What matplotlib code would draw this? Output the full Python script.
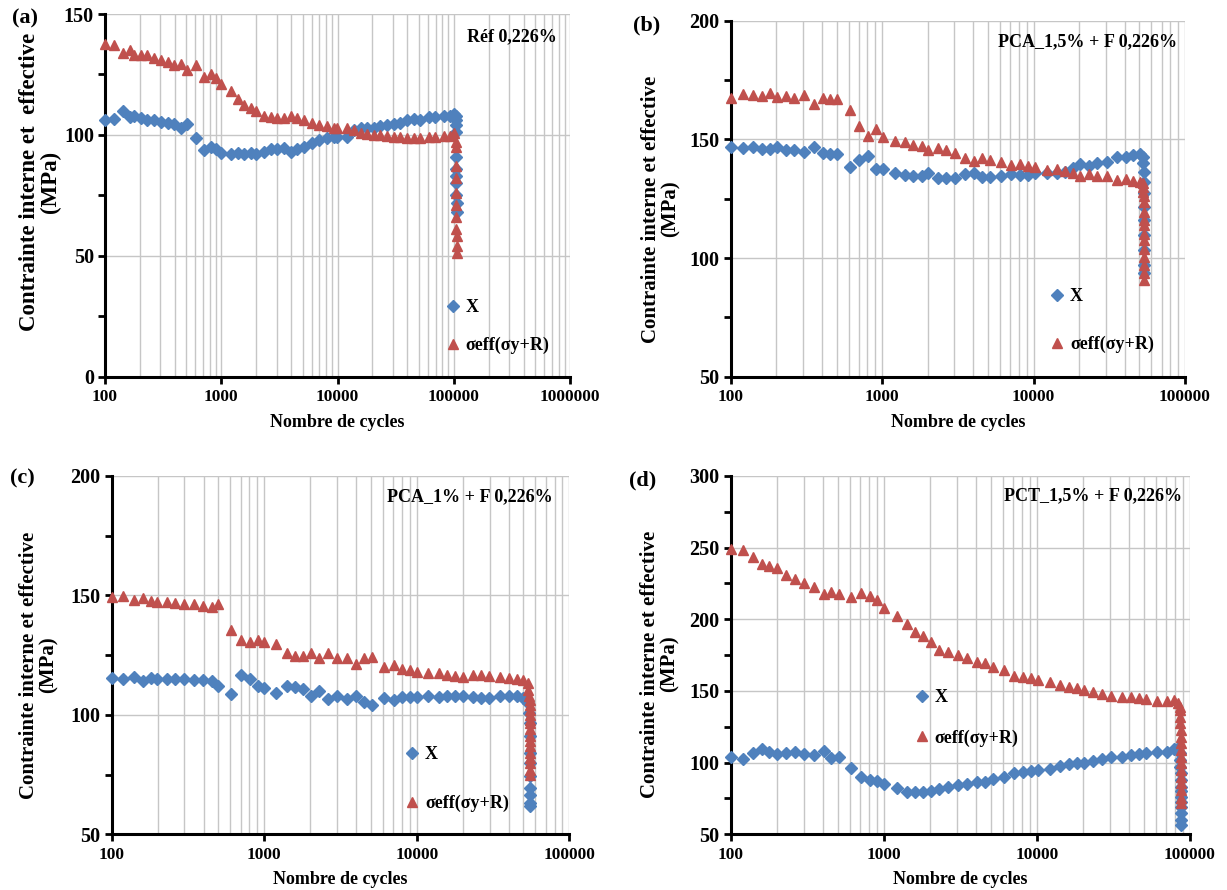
import matplotlib
matplotlib.use("Agg")
import matplotlib.pyplot as plt
from matplotlib.ticker import MultipleLocator, FuncFormatter, LogLocator, NullFormatter
import numpy as np

plt.rcParams['font.family'] = ['Liberation Serif', 'DejaVu Serif']
plt.rcParams['font.weight'] = 'bold'

BLUE = '#4F81BD'
RED = '#C0504D'

# ---------------- Panel (a) : Réf 0,226% ----------------
a_cycles = [100, 120, 142, 163, 178, 204, 232, 265, 303, 345, 393, 448, 505, 605, 712, 812, 898, 990,
            1210, 1380, 1575, 1800, 1980, 2330, 2660, 3030, 3450, 3950, 4500, 5140, 6060, 6900, 8130,
            9280, 9900, 12100, 13800, 15800, 18000, 20500, 23400, 26700, 30500, 34700, 39600, 45200,
            51600, 60700, 69200, 81800, 92700, 101000]
a_X = [106, 106.7, 109.7, 107.4, 108, 107, 106, 106, 105.3, 105, 104.6, 103, 104.6, 98.6, 93.8, 95, 94,
       92.6, 92, 92.4, 92, 92.4, 92, 93, 94, 94, 94.4, 93, 94, 95, 96.5, 98, 98.6, 99, 99.3, 99.3, 102,
       102.8, 102.8, 103, 103.8, 104, 104.6, 104.9, 106, 106.5, 106, 107.4, 107.4, 108, 108, 108.8]
a_seff = [137.5, 137, 134, 135, 133, 133, 133, 132, 131, 130, 129, 129.5, 127, 129, 124, 125, 123.6, 121,
          118, 115, 112.5, 111, 110, 108, 107.6, 107, 107, 108, 107, 106, 105, 104, 103.5, 103, 103, 103,
          102, 100.7, 100.4, 100, 100, 99.6, 99.3, 99.3, 98.6, 98.6, 98.6, 99.3, 99.3, 99.6, 99.6, 100.7]
a_drop_cycles_X = [104000, 104500, 104500, 105000, 105000, 105000, 105500, 105500, 105500, 106000, 106000]
a_drop_X = [108, 106, 104, 101, 91, 86, 83, 80, 75, 72, 68]
a_drop_cycles_seff = [104000, 104500, 105000, 105000, 105000, 105500, 105500, 105500, 106000, 106000, 106000]
a_drop_seff = [97, 95, 87, 82, 76, 71, 66, 61, 58, 54, 51]

# ---------------- Panel (b) : PCA_1,5% + F 0,226% ----------------
b_cycles = [100, 121, 141, 162, 182, 203, 232, 262, 305, 355, 404, 453, 507, 609, 708, 811, 910, 1010,
            1220, 1420, 1610, 1830, 2020, 2330, 2640, 3030, 3530, 4040, 4540, 5150, 6060, 7120, 8090,
            9140, 10200, 12200, 14200, 16100, 18300, 20300, 23400, 26200, 30400, 35300, 40600, 45400, 50400]
b_X = [146.9, 146.2, 146.6, 145.8, 145.8, 146.6, 145.5, 145.5, 144.8, 146.6, 144.1, 143.8, 143.8, 138.5,
       141.3, 143, 137.4, 137.4, 136, 135, 134.7, 134.7, 135.7, 133.6, 133.6, 133.8, 135.4, 135.7, 134,
       134.3, 134.6, 135.4, 135, 135, 135.7, 135.7, 135.7, 136.4, 137.8, 139.6, 138.8, 139.9, 140.6,
       142.4, 142.7, 143.4, 143.8]
b_seff = [167.3, 169.1, 168.7, 168.3, 169.4, 167.7, 168.3, 167.3, 168.7, 164.9, 167.3, 167, 167, 162.4,
          155.6, 151.4, 154.2, 151.1, 149.4, 149, 147.6, 147.2, 145.5, 146.5, 145.5, 144.4, 142, 141, 142,
          141.3, 140.6, 139.2, 139.6, 138.8, 138.2, 137, 137.4, 136.7, 135.7, 134.7, 135.4, 134.6, 134.6,
          132.9, 133.1, 132.6, 132.2]
b_drop_cycles_X = [52500, 53000, 53500, 53500, 54000, 54000, 54000, 54000, 54000, 54000, 54000]
b_drop_X = [142.7, 139.9, 136.4, 132.2, 127.2, 121.6, 116, 109.7, 103.4, 97.1, 93.5]
b_drop_cycles_seff = [52500, 53000, 53000, 53500, 53500, 54000, 54000, 54000, 54000, 54000, 54000,
                      54000, 54000, 54000, 54000]
b_drop_seff = [131.5, 130, 128, 126, 123.7, 119.5, 116, 113.9, 110, 107.6, 104, 100.6, 97, 93.5, 90.7]

# ---------------- Panel (c) : PCA_1% + F 0,226% ----------------
c_cycles = [100, 119, 139, 160, 180, 199, 229, 260, 299, 348, 399, 452, 501, 603, 700, 808, 908, 1004,
            1197, 1400, 1592, 1807, 2020, 2300, 2620, 3020, 3490, 4020, 4530, 5080, 6060, 7040, 7970,
            9050, 10100, 11900, 13900, 15900, 17900, 20100, 23200, 26200, 29800, 35000, 40400, 45300, 50000]
c_X = [115.3, 114.9, 115.8, 114, 115.3, 114.9, 115.1, 114.9, 115.1, 114.4, 114.4, 114, 111.9, 108.8,
       116.5, 115.1, 112.1, 111.2, 109.3, 111.9, 111.6, 110.7, 108.1, 109.8, 106.6, 108, 106.6, 108.1,
       105.2, 104.2, 107, 106.3, 107.3, 107.4, 107.3, 107.7, 107.3, 107.7, 107.7, 107.7, 107.3, 107, 107,
       107.7, 108, 108, 107]
c_seff = [149.2, 149.8, 148.1, 148.8, 147.7, 147.4, 147.1, 146.7, 146.4, 146.3, 145.6, 145.3, 146.4,
          135.6, 131.4, 130.7, 131.4, 130.3, 129.7, 125.8, 124.7, 124.7, 126.1, 123.7, 125.8, 123.7,
          123.7, 121.3, 123.7, 124.1, 120.2, 120.9, 119.2, 118.8, 118.1, 117.7, 117.7, 116.7, 116.3, 116,
          116.7, 116.7, 116.3, 115.8, 115.3, 114.9, 114.4]
c_drop_cycles_X = [54000, 54500, 55000, 55000, 55000, 55500, 55500, 55500, 55500, 55500, 55500]
c_drop_X = [104.9, 100.7, 96.5, 91, 84, 79.8, 74.2, 69.3, 66.5, 63, 62]
c_drop_cycles_seff = [53500, 54000, 54500, 55000, 55000, 55500, 55500, 55500, 55500, 55500, 55500,
                      55500, 55500, 55500, 55500, 55500, 55500, 55500]
c_drop_seff = [113.2, 110.5, 108, 106.3, 104, 102.1, 100, 98, 96.5, 94, 91, 89, 87, 84, 82, 79.8, 77, 75]

# ---------------- Panel (d) : PCT_1,5% + F 0,226% ----------------
d_cycles = [100, 120, 139, 159, 179, 202, 230, 263, 301, 352, 404, 453, 506, 609, 707, 808, 900, 1005,
            1214, 1411, 1600, 1798, 2020, 2306, 2640, 3030, 3510, 4050, 4590, 5150, 6110, 7100, 8080,
            9100, 10200, 12200, 14200, 16100, 18200, 20400, 23400, 26800, 30700, 35900, 41000, 46200,
            51700, 61100, 70500, 78100]
d_X = [103.7, 102.3, 106.5, 109.3, 107.7, 106, 107, 107.7, 106, 105.3, 108.1, 103, 103.7, 96, 89.8,
       87.9, 87.4, 85.1, 82.1, 79.8, 79.3, 79.8, 80.5, 81.6, 82.8, 84.4, 85.1, 86.7, 86.7, 88.4, 90.2,
       93, 93.7, 94.4, 94.9, 95.3, 97.7, 99.1, 99.5, 100, 101.4, 102.3, 103.7, 104.2, 105.3, 106, 106.5,
       107.7, 107.7, 109.3]
d_seff = [248.8, 248.4, 243.3, 238.4, 237.2, 235.6, 230.9, 227.9, 225.1, 222.8, 217.7, 219.3, 217.7,
          215.3, 218.1, 216.3, 213.5, 208.1, 202.3, 196.7, 191.4, 188.6, 184.4, 178.6, 177.4, 175.1,
          172.8, 170.5, 169.8, 166.5, 164.7, 160.7, 159.5, 158.8, 157.7, 156.5, 154.2, 152.6, 151.9,
          150.7, 149.5, 147.9, 146.5, 146, 145.6, 144.9, 144.2, 143.3, 143.3, 143.7]
d_drop_cycles_X = [85000, 86000, 86500, 86500, 87000, 87000, 87000, 87000, 87000, 87000, 87000, 87000,
                   87000, 87000]
d_drop_X = [111.2, 106.5, 101.9, 97, 92.6, 88, 83.3, 80, 76.3, 72.7, 69.3, 64.7, 60, 56.5]
d_drop_cycles_seff = [84000, 85500, 86000, 86500, 86500, 87000, 87000, 87000, 87000, 87000, 87000,
                      87000, 87000, 87000, 87000, 87000, 87000]
d_drop_seff = [141.4, 139, 136.7, 132, 127.4, 122.8, 118.1, 113.5, 108.8, 104, 99.5, 95, 90.2, 85.5,
               80.9, 75.1, 71.6]

legend_labels = ['X', 'σeff(σy+R)']
panel_letters = ['(a)', '(b)', '(c)', '(d)']
titles = ['Réf 0,226%', 'PCA_1,5% + F 0,226%', 'PCA_1% + F 0,226%', 'PCT_1,5% + F 0,226%']
ylabels = ['Contrainte interne et  effective\n(MPa)', 'Contrainte interne et effective\n(MPa)',
           'Contrainte interne et effective\n(MPa)', 'Contrainte interne et effective\n(MPa)']
xlabel = 'Nombre de cycles'

W, H = 1227, 890
fig = plt.figure(figsize=(W / 100, H / 100), dpi=100)


def px_rect(l, t, r, b):
    return [l / W, 1 - b / H, (r - l) / W, (b - t) / H]


panels = [
    dict(rect=px_rect(105, 14, 570, 376.7), xlim=(100, 1e6), ylim=(0, 150),
         cyc=a_cycles, X=a_X, S=a_seff, dXc=a_drop_cycles_X, dX=a_drop_X, dSc=a_drop_cycles_seff, dS=a_drop_seff,
         leg=(0.733, 0.214, 1.15), letter=(25, 18), title=(557, 37), ylab=(40, 182, 16.5)),
    dict(rect=px_rect(730.7, 20.7, 1185, 376.7), xlim=(100, 1e5), ylim=(50, 200),
         cyc=b_cycles, X=b_X, S=b_seff, dXc=b_drop_cycles_X, dX=b_drop_X, dSc=b_drop_cycles_seff, dS=b_drop_seff,
         leg=(0.703, 0.249, 1.7), letter=(647, 25), title=(1177, 42), ylab=(661, 209, 15)),
    dict(rect=px_rect(111.7, 476, 569.3, 834.3), xlim=(100, 1e5), ylim=(50, 200),
         cyc=c_cycles, X=c_X, S=c_seff, dXc=c_drop_cycles_X, dX=c_drop_X, dSc=c_drop_cycles_seff, dS=c_drop_seff,
         leg=(0.641, 0.246, 1.75), letter=(22, 478), title=(553, 497), ylab=(39, 665, 15)),
    dict(rect=px_rect(730.7, 476, 1190, 834.3), xlim=(100, 1e5), ylim=(50, 300),
         cyc=d_cycles, X=d_X, S=d_seff, dXc=d_drop_cycles_X, dX=d_drop_X, dSc=d_drop_cycles_seff, dS=d_drop_seff,
         leg=(0.401, 0.406, 1.3), letter=(643, 480), title=(1182, 496), ylab=(660, 664, 15)),
]

for i, p in enumerate(panels):
    ax = fig.add_axes(p['rect'])
    ax.set_xscale('log')
    ax.set_xlim(*p['xlim'])
    ax.set_ylim(*p['ylim'])

    ax.plot(p['cyc'] + p['dXc'], p['X'] + p['dX'], linestyle='none', marker='D', ms=5.7,
            color=BLUE, mec=BLUE, label=legend_labels[0], clip_on=False, zorder=4)
    ax.plot(p['cyc'] + p['dSc'], p['S'] + p['dS'], linestyle='none', marker='^', ms=7.8,
            color=RED, mec=RED, label=legend_labels[1], clip_on=False, zorder=5)

    # ticks
    ax.xaxis.set_major_locator(LogLocator(base=10, numticks=10))
    ax.xaxis.set_minor_locator(LogLocator(base=10, subs=np.arange(2, 10), numticks=100))
    ax.xaxis.set_major_formatter(FuncFormatter(lambda v, pos: '%d' % round(v)))
    ax.xaxis.set_minor_formatter(NullFormatter())
    ax.yaxis.set_major_locator(MultipleLocator(50))
    ax.yaxis.set_minor_locator(MultipleLocator(25))
    ax.tick_params(axis='both', which='major', direction='out', length=5, width=2, color='black')
    ax.tick_params(axis='x', which='major', pad=4, labelsize=12.5)
    ax.tick_params(axis='y', which='major', pad=3, labelsize=14.5)
    ax.tick_params(axis='x', which='minor', length=0)
    ax.tick_params(axis='y', which='minor', direction='out', length=5, width=2, color='black')
    for lab in ax.get_xticklabels() + ax.get_yticklabels():
        lab.set_fontweight('bold')

    # grid
    ax.set_axisbelow(True)
    ax.grid(True, which='major', axis='both', color='#c6c6c6', linewidth=1.0)
    ax.grid(True, which='minor', axis='x', color='#c6c6c6', linewidth=1.0)

    for s in ['top', 'right']:
        ax.spines[s].set_visible(False)
    for s in ['left', 'bottom']:
        ax.spines[s].set_linewidth(2.2)
        ax.spines[s].set_color('black')
        ax.spines[s].set_zorder(3)

    ax.set_xlabel(xlabel, fontsize=13, fontweight='bold', labelpad=6)

    lx, ly, lsp = p['leg']
    ax.legend(loc='upper left', bbox_to_anchor=(lx, ly), frameon=False,
              handlelength=0.8, handletextpad=0.3, labelspacing=lsp, borderpad=0, borderaxespad=0,
              prop={'weight': 'bold', 'size': 13})

    fig.text(p['letter'][0] / W, 1 - p['letter'][1] / H, panel_letters[i], fontsize=16,
             fontweight='bold', ha='center', va='center')
    fig.text(p['title'][0] / W, 1 - p['title'][1] / H, titles[i], fontsize=13, fontweight='bold',
             ha='right', va='center')
    yx, yy, yfs = p['ylab']
    fig.text(yx / W, 1 - yy / H, ylabels[i], fontsize=yfs, fontweight='bold', rotation=90,
             ha='center', va='center', multialignment='center', linespacing=1.0)

fig.savefig('out.png', dpi=100)
